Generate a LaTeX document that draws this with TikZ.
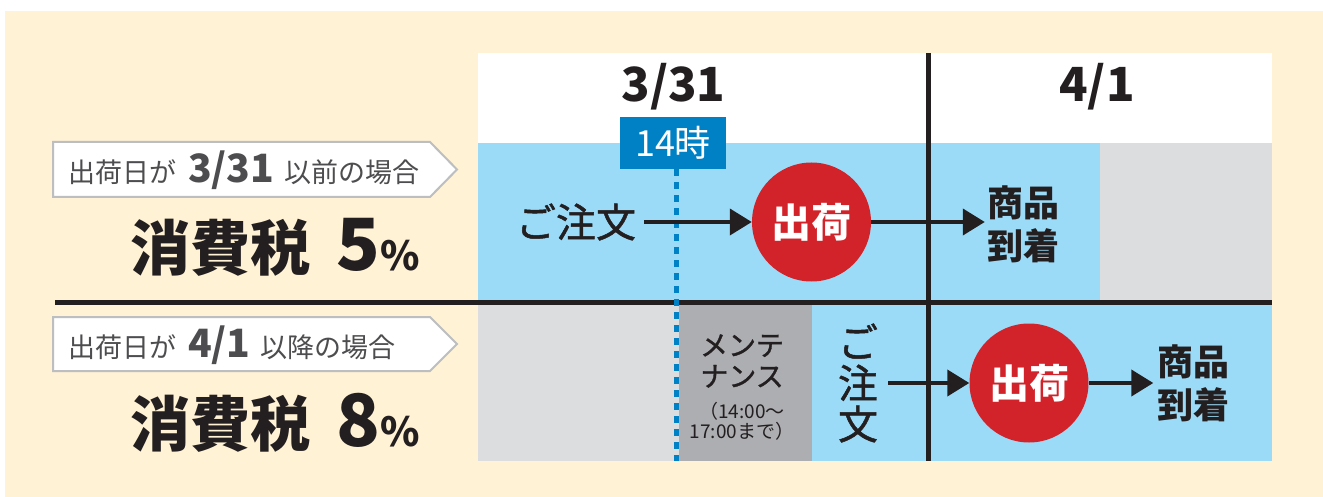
\documentclass[tikz,border=0pt]{standalone}
\usepackage{fontspec}
\setmainfont{Noto Sans CJK JP}
\newfontfamily\jp{Noto Sans CJK JP}
\newfontfamily\jpm[FakeBold=1.2]{Noto Sans CJK JP}
\usetikzlibrary{arrows.meta}
\definecolor{cream}{HTML}{FFF2D5}
\definecolor{lblue}{HTML}{9CDBF7}
\definecolor{lgray}{HTML}{DCDDDF}
\definecolor{dgray}{HTML}{ADAEB1}
\definecolor{tagblue}{HTML}{0081C6}
\definecolor{shipred}{HTML}{D2232A}
\definecolor{blk}{HTML}{231F20}
\definecolor{tgray}{HTML}{4D4D4F}
\definecolor{tagline}{HTML}{BCBEC0}
\newcommand\fsz[1]{\fontsize{#1}{#1}\selectfont}
\tikzset{
  arr/.style={draw=blk, line width=4pt, -{Triangle[length=22pt,width=26pt]}},
  shipnode/.style={circle, fill=shipred, minimum size=119pt, inner sep=0pt, text=white, font=\jp\bfseries\fsz{40}},
  txt/.style={inner sep=0pt, text=blk, font=\jp},
  tagshape/.style={fill=white, draw=tagline, line width=2pt},
  gridline/.style={draw=blk, line width=5pt},
  dashline/.style={draw=tagblue, line width=5pt, dash pattern=on 7pt off 6pt}
}
\begin{document}
\begin{tikzpicture}[x=1pt,y=-1pt]
\useasboundingbox (0,0) rectangle (1323,497);
\fill[white] (0,0) rectangle (1323,497);
\fill[cream] (5,11) rectangle (1323,497);
% table backgrounds
\fill[white] (478,53) rectangle (1272,143);
\fill[lblue] (478,143) rectangle (1100,302);
\fill[lgray] (1100,143) rectangle (1272,302);
\fill[lgray] (478,302) rectangle (679,461);
\fill[dgray] (679,302) rectangle (812,461);
\fill[lblue] (812,302) rectangle (1272,461);
% grid lines
\draw[gridline] (55,302) -- (1272,302);
\draw[gridline] (928,53) -- (928,461);
% header dates
\node[txt, anchor=base, font=\jp\bfseries\fsz{47}] (d1) at (673.5,102) {3/31};
\node[txt, anchor=base, font=\jp\bfseries\fsz{47}] (d2) at (1097,102) {4/1};
% 14時 tag and dashed line
\node[fill=tagblue, minimum width=106pt, minimum height=52pt, inner sep=0pt, text=white, font=\jp\fsz{36}] (t14) at (673,143) {14時};
\coordinate (dashend) at (676,461);
\draw[dashline] (dashend |- t14.south) -- (dashend);
% left condition tags
\draw[tagshape] (53,142) -- (430,142) -- (457,169.5) -- (430,197) -- (53,197) -- cycle;
\node[txt, text=tgray, anchor=base west] (cond1) at (68,183) {\fsz{27}出荷日が\hspace{12pt}{\bfseries\fsz{39}3/31}\hspace{10pt}以前の場合};
\draw[tagshape] (53,317) -- (430,317) -- (457,344) -- (430,371) -- (53,371) -- cycle;
\node[txt, text=tgray, anchor=base west] (cond2) at (68,357) {\fsz{27}出荷日が\hspace{12pt}{\bfseries\fsz{39}4/1}\hspace{10pt}以降の場合};
% tax rates
\node[txt, anchor=base west] (tax1) at (130,271) {\bfseries\fsz{60}消費税\hspace{26pt}{\fsz{72}5}{\fsz{40}\%}};
\node[txt, anchor=base west] (tax2) at (130,446) {\bfseries\fsz{60}消費税\hspace{26pt}{\fsz{72}8}{\fsz{40}\%}};
% top flow
\node[txt, font=\jpm\fsz{40}] (order1) at (576,222) {ご注文};
\node[shipnode] (ship1) at (811.5,222) {出荷};
\node[txt, align=center, font=\jp\bfseries\fontsize{36}{43}\selectfont] (arrive1) at (1023,224) {商品\\到着};
\draw[arr, shorten <=8pt] (order1.east) -- (ship1.west);
\draw[arr, shorten >=2pt] (ship1.east) -- (ship1.east -| arrive1.west);
% maintenance
\node[txt, align=center, font=\jpm\fontsize{28}{31}\selectfont] (maint) at (742,361) {メンテ\\ナンス};
\node[txt, align=center, font=\jp\fontsize{19}{20}\selectfont] (maintsub) at (742,421) {（14:00〜\\17:00まで）};
% bottom flow
\node[txt, align=center, font=\jpm\fontsize{40}{41}\selectfont] (order2) at (858,383) {ご\\注\\文};
\node[shipnode] (ship2) at (1029,383) {出荷};
\node[txt, align=center, font=\jp\bfseries\fontsize{36}{43}\selectfont] (arrive2) at (1193.5,383.5) {商品\\到着};
\draw[arr, shorten <=10pt] (order2.east) -- (ship2.west);
\draw[arr, shorten >=4pt] (ship2.east) -- (ship2.east -| arrive2.west);
\end{tikzpicture}
\end{document}
